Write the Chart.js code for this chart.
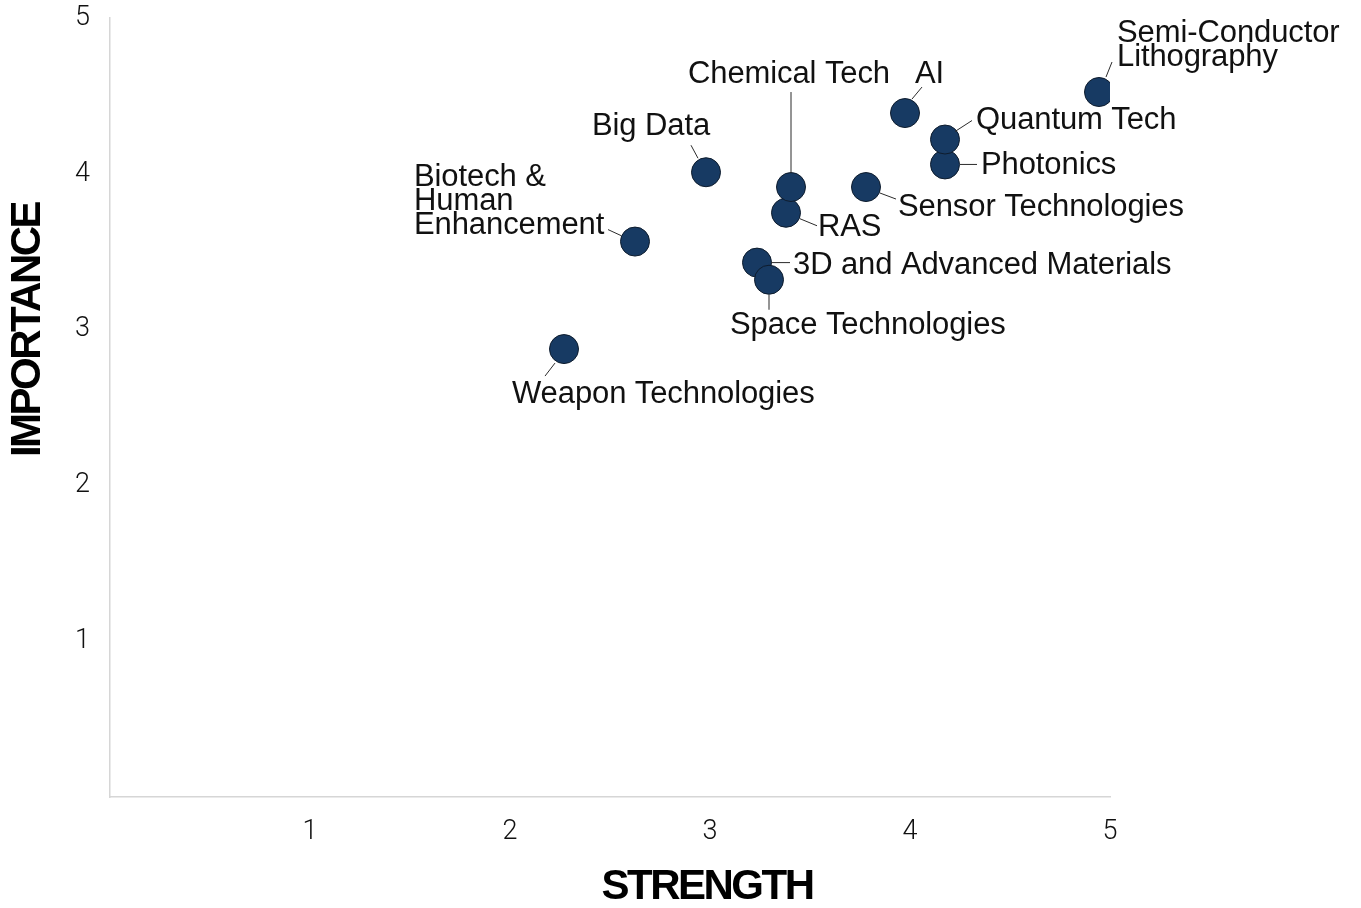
<!DOCTYPE html>
<html>
<head>
<meta charset="utf-8">
<script src="https://cdn.jsdelivr.net/npm/chart.js@4/dist/chart.umd.min.js"></script>
<style>
  html, body { margin: 0; padding: 0; background: #ffffff; }
  #wrap { position: relative; width: 1361px; height: 908px; }
</style>
</head>
<body>
<div id="wrap"><canvas id="chart" width="1361" height="908"></canvas></div>
<script>
// Technologies, in drawing order (later ones sit on top)
const categories = [
  "Weapon Technologies",
  "Biotech & Human Enhancement",
  "Big Data",
  "RAS",
  "Chemical Tech",
  "Sensor Technologies",
  "3D and Advanced Materials",
  "Space Technologies",
  "AI",
  "Photonics",
  "Quantum Tech",
  "Semi-Conductor Lithography"
];
const strength   = [2.27, 2.625, 2.98, 3.38, 3.405, 3.78, 3.235, 3.295, 3.975, 4.175, 4.175, 4.945];
const importance = [2.875, 3.565, 4.01, 3.75, 3.915, 3.915, 3.43, 3.32, 4.39, 4.06, 4.22, 4.525];
const tickValues = [1, 2, 3, 4, 5];
const xTitle = "STRENGTH";
const yTitle = "IMPORTANCE";

// Label text lines per technology
const labelLines = {
  "Weapon Technologies": ["Weapon Technologies"],
  "Biotech & Human Enhancement": ["Biotech &", "Human", "Enhancement"],
  "Big Data": ["Big Data"],
  "RAS": ["RAS"],
  "Chemical Tech": ["Chemical Tech"],
  "Sensor Technologies": ["Sensor Technologies"],
  "3D and Advanced Materials": ["3D and Advanced Materials"],
  "Space Technologies": ["Space Technologies"],
  "AI": ["AI"],
  "Photonics": ["Photonics"],
  "Quantum Tech": ["Quantum Tech"],
  "Semi-Conductor Lithography": ["Semi-Conductor", "Lithography"]
};

// Callout placement, in pixels relative to the marker centre:
// leader = [x1, y1, x2, y2], text = [dx, dy of first baseline], align
const callouts = {
  "Weapon Technologies":        { leader: [-9, 14, -19, 27],  text: [-52, 54],   align: "left" },
  "Biotech & Human Enhancement":{ leader: [-14, -6, -27, -12], text: [-221, -56], align: "left" },
  "Big Data":                   { leader: [-8, -14, -15, -27], text: [-55, -37],  align: "center" },
  "RAS":                        { leader: [14, 6, 31, 13],     text: [32, 23],    align: "left" },
  "Chemical Tech":              { leader: [0, -14, 0, -95],    text: [-2, -104],  align: "center" },
  "Sensor Technologies":        { leader: [14, 6, 30, 12],     text: [32, 29],    align: "left" },
  "3D and Advanced Materials":  { leader: [14, 0, 33, 0],      text: [36, 11],    align: "left" },
  "Space Technologies":         { leader: [0, 15, 0, 30],      text: [-39, 54],   align: "left" },
  "AI":                         { leader: [7, -14, 17, -26],   text: [10, -30],   align: "left" },
  "Photonics":                  { leader: [15, 0, 32, 0],      text: [36, 10],    align: "left" },
  "Quantum Tech":               { leader: [10, -8, 27, -19],   text: [31, -11],   align: "left" },
  "Semi-Conductor Lithography": { leader: [7, -15, 13, -30],   text: [18, -50],   align: "left" }
};

const labelFont = '31px "Liberation Sans", Arial, sans-serif';
const lineGap = 24;

const calloutPlugin = {
  id: 'callouts',
  afterDatasetsDraw(chart) {
    const ctx = chart.ctx;
    const meta = chart.getDatasetMeta(0);
    ctx.save();
    meta.data.forEach((pt, i) => {
      const name = categories[i];
      const c = callouts[name];
      const x = pt.x, y = pt.y;
      ctx.strokeStyle = '#2b2b2b';
      ctx.lineWidth = 1;
      ctx.beginPath();
      ctx.moveTo(x + c.leader[0], y + c.leader[1]);
      ctx.lineTo(x + c.leader[2], y + c.leader[3]);
      ctx.stroke();
      ctx.font = labelFont;
      ctx.letterSpacing = '-0.1px';
      ctx.fillStyle = '#111111';
      ctx.textAlign = c.align;
      ctx.textBaseline = 'alphabetic';
      labelLines[name].forEach((line, k) => {
        ctx.fillText(line, x + c.text[0], y + c.text[1] + k * lineGap);
      });
    });
    ctx.restore();
  },
  afterDraw(chart) {
    const ctx = chart.ctx;
    ctx.save();
    ctx.fillStyle = '#000000';
    ctx.font = 'bold 42px "Liberation Sans", Arial, sans-serif';
    ctx.letterSpacing = '-2.5px';
    ctx.textAlign = 'center';
    ctx.textBaseline = 'middle';
    ctx.fillText(xTitle, 707, 887);
    ctx.translate(28, 330);
    ctx.rotate(-Math.PI / 2);
    ctx.fillText(yTitle, 0, 0);
    ctx.restore();
  }
};

const points = strength.map((s, i) => ({ x: s, y: importance[i] }));

new Chart(document.getElementById('chart'), {
  type: 'scatter',
  data: {
    datasets: [{
      data: points,
      backgroundColor: '#173a63',
      borderColor: '#0e1c2d',
      borderWidth: 1,
      pointRadius: 14.5,
      pointHoverRadius: 14.5
    }]
  },
  options: {
    responsive: false,
    animation: false,
    events: [],
    layout: { padding: { top: 18, right: 251, bottom: 0, left: 0 } },
    plugins: {
      legend: { display: false },
      tooltip: { enabled: false }
    },
    scales: {
      x: {
        type: 'linear',
        min: 0,
        max: 5,
        afterFit(scale) { scale.height = 111; scale.paddingRight = 0; },
        afterBuildTicks(scale) { scale.ticks = tickValues.map(v => ({ value: v })); },
        grid: { display: false, drawTicks: false },
        border: { display: true, color: '#d6d6d6', width: 1.5 },
        ticks: {
          padding: 19,
          color: '#111111',
          font: { family: 'Roboto, "Liberation Sans", sans-serif', size: 27, weight: '300' }
        }
      },
      y: {
        type: 'linear',
        min: 0,
        max: 5,
        afterFit(scale) { scale.width = 110; scale.paddingTop = 0; scale.paddingBottom = 0; },
        afterBuildTicks(scale) { scale.ticks = tickValues.map(v => ({ value: v })); },
        grid: { display: false, drawTicks: false },
        border: { display: true, color: '#d6d6d6', width: 1.5 },
        ticks: {
          padding: 20,
          color: '#111111',
          font: { family: 'Roboto, "Liberation Sans", sans-serif', size: 27, weight: '300' }
        }
      }
    }
  },
  plugins: [calloutPlugin]
});
</script>
</body>
</html>
